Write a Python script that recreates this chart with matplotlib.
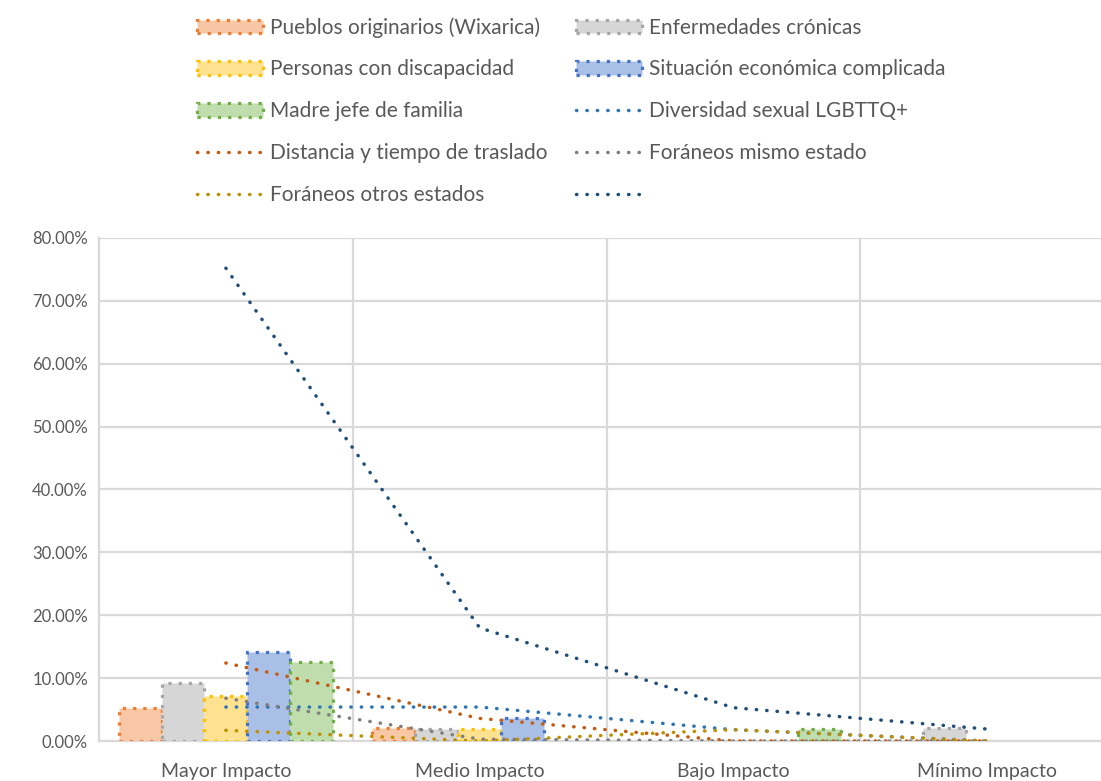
import numpy as np
import matplotlib
matplotlib.use("Agg")
import matplotlib.pyplot as plt
from matplotlib.patches import Patch
from matplotlib.lines import Line2D
from matplotlib.ticker import FuncFormatter

plt.rcParams['font.family'] = ['Lato', 'DejaVu Sans']

categories = ["Mayor Impacto", "Medio Impacto", "Bajo Impacto", "Mínimo Impacto"]

# bar series (fraction)
pueblos = [0.053, 0.020, 0.0, 0.0]
enfermedades = [0.092, 0.019, 0.0, 0.020]
personas = [0.071, 0.019, 0.0, 0.0]
situacion = [0.142, 0.037, 0.0, 0.0]
madre = [0.125, 0.0, 0.019, 0.0]

# line series (fraction)
diversidad = [0.054, 0.054, 0.018, 0.0]
distancia = [0.124, 0.036, 0.0, 0.0]
foraneos_mismo = [0.068, 0.003, 0.0, 0.0]
foraneos_otros = [0.017, 0.0, 0.018, 0.0]
sin_nombre = [0.752, 0.180, 0.053, 0.019]

bar_labels = ["Pueblos originarios (Wixarica)", "Enfermedades crónicas",
              "Personas con discapacidad", "Situación económica complicada",
              "Madre jefe de familia"]
line_labels = ["Diversidad sexual LGBTTQ+", "Distancia y tiempo de traslado",
               "Foráneos mismo estado", "Foráneos otros estados", ""]

bar_data = [pueblos, enfermedades, personas, situacion, madre]
bar_fill = ["#F8C7A6", "#D6D6D6", "#FFE28F", "#A9BFE6", "#C0DDAD"]
bar_edge = ["#ED7D31", "#A5A5A5", "#FFC000", "#4472C4", "#70AD47"]

line_data = [diversidad, distancia, foraneos_mismo, foraneos_otros, sin_nombre]
line_colors = ["#2E75B6", "#C55A11", "#7F7F7F", "#BF9000", "#1F4E79"]

W, H = 1101, 781
fig = plt.figure(figsize=(W / 100, H / 100), dpi=100)
ax = fig.add_axes([99 / W, 1 - 741 / H, (1114 - 99) / W, (741 - 238) / H])

x = np.arange(len(categories))
bw = 0.169
bar_ls = (0, (1.0, 2.2))
for j, (vals, fc, ec) in enumerate(zip(bar_data, bar_fill, bar_edge)):
    cont = ax.bar(x + (j - 2) * bw, vals, width=bw, color=fc, edgecolor=ec,
                  linewidth=2.3, linestyle=bar_ls, zorder=3)
    for r, v in zip(cont.patches, vals):
        r.set_capstyle('butt')
        if v == 0:
            r.set_visible(False)

dot_ls = (0, (0.1, 2.9))
for vals, c in zip(line_data, line_colors):
    ax.plot(x, vals, color=c, lw=2.5, linestyle=dot_ls,
            dash_capstyle='round', zorder=4)

ax.set_xlim(-0.5, 3.5)
ax.set_ylim(0, 0.8)
ax.set_yticks(np.arange(0, 0.81, 0.1))
ax.yaxis.set_major_formatter(FuncFormatter(lambda v, p: f"{v*100:.2f}%"))
ax.set_xticks(x)
ax.set_xticklabels(categories)
ax.set_xticks(x[:-1] + 0.5, minor=True)

grid_c = "#D9D9D9"
ax.grid(axis='y', which='major', color=grid_c, lw=1.6, zorder=0)
ax.grid(axis='x', which='minor', color=grid_c, lw=1.6, zorder=0)
ax.grid(axis='x', which='major', visible=False)
for s in ['top', 'right']:
    ax.spines[s].set_visible(False)
for s in ['left', 'bottom']:
    ax.spines[s].set_color(grid_c)
    ax.spines[s].set_linewidth(1.6)
ax.tick_params(axis='both', which='both', length=0, labelcolor="#595959")
ax.tick_params(axis='x', labelsize=14, pad=16)
ax.tick_params(axis='y', labelsize=12, pad=8)

# legend
bar_handles = [Patch(facecolor=fc, edgecolor=ec, linewidth=2.3, linestyle=bar_ls)
               for fc, ec in zip(bar_fill, bar_edge)]
line_handles = [Line2D([0], [0], color=c, lw=2.5, linestyle=dot_ls,
                       dash_capstyle='round') for c in line_colors]
all_h = bar_handles + line_handles
all_l = bar_labels + line_labels
# row-major order across two columns -> column-major for matplotlib
order = list(range(0, 10, 2)) + list(range(1, 10, 2))
leg_fs = 15
leg = fig.legend([all_h[i] for i in order], [all_l[i] for i in order], ncol=2,
                 loc='upper left', bbox_to_anchor=(197 / W, 1 - 17 / H),
                 frameon=False, fontsize=leg_fs, handlelength=3.17,
                 handleheight=0.62, handletextpad=0.34, columnspacing=1.37,
                 labelspacing=1.05, borderpad=0, borderaxespad=0)
for t in leg.get_texts():
    t.set_color("#595959")

fig.savefig("out.png", dpi=100, facecolor="white")
